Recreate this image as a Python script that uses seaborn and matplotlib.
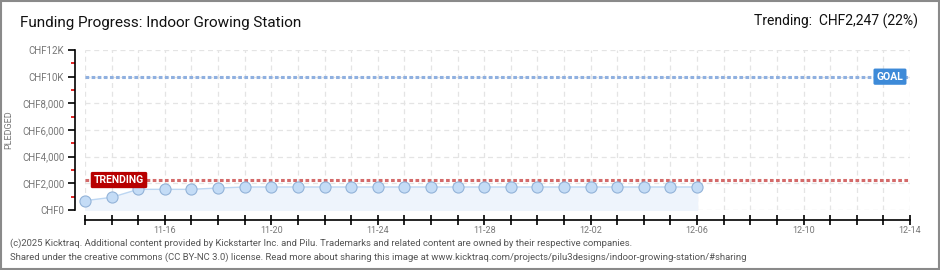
import pandas as pd
import matplotlib
matplotlib.use("Agg")
import matplotlib.pyplot as plt
from matplotlib.ticker import FixedLocator
import seaborn as sns

# data
start_day = "2025-11-13"
end_day = "2025-12-14"
pledged = [700, 950, 1550, 1550, 1550, 1650, 1725, 1725, 1725, 1725, 1725, 1725,
           1725, 1725, 1725, 1725, 1725, 1725, 1725, 1725, 1725, 1725, 1725, 1725]
goal = 10000
trending = 2247
y_ticks = [0, 2000, 4000, 6000, 8000, 10000, 12000]
y_labels = ["CHF0", "CHF2,000", "CHF4,000", "CHF6,000", "CHF8,000", "CHF10K", "CHF12K"]
x_labelled = ["11-16", "11-20", "11-24", "11-28", "12-02", "12-06", "12-10", "12-14"]

df = pd.DataFrame({
    "date": pd.date_range(start_day, periods=len(pledged), freq="D"),
    "pledged": pledged,
})
all_days = pd.date_range(start_day, end_day, freq="D")

sns.set_style("white")
plt.rcParams["font.family"] = ["Roboto", "DejaVu Sans"]

fig = plt.figure(figsize=(9.4, 2.7), dpi=100)
ax = fig.add_axes([85 / 940, 60 / 270, 825 / 940, 160 / 270])

# grid
for d in all_days:
    ax.axvline(d, color="#e4e4e4", lw=0.9, ls=(0, (4, 3)), zorder=0)
for v in y_ticks:
    ax.axhline(v, color="#e4e4e4", lw=0.9, ls=(0, (4, 3)), zorder=0)

# reference lines
ax.axhline(goal, color="#8fb0e0", lw=2.2, ls=(0, (1.2, 0.8)), zorder=2)
ax.axhline(trending, color="#d46a6a", lw=2.2, ls=(0, (1.2, 0.8)), zorder=2)

# pledged series
ax.fill_between(df["date"], df["pledged"], color="#eef4fc", zorder=1)
sns.lineplot(data=df, x="date", y="pledged", ax=ax, color="#bcd6f2", lw=1.0,
             marker="o", markersize=8, markerfacecolor="#c4dcf6",
             markeredgecolor="#93b3d8", markeredgewidth=0.8, zorder=3, clip_on=False)

ax.set_xlim(all_days[0], all_days[-1])
ax.set_ylim(0, 12000)

# x axis: a tick every day, a label every fourth day
ax.set_xticks(all_days)
ax.set_xticklabels([d.strftime("%m-%d") if d.strftime("%m-%d") in x_labelled else ""
                    for d in all_days])
ax.tick_params(axis="x", which="major", bottom=True, direction="inout", length=7,
               width=1.2, color="black", labelsize=6.5, labelcolor="#777777", pad=1)

# y axis
ax.yaxis.set_major_locator(FixedLocator(y_ticks))
ax.set_yticklabels(y_labels)
ax.yaxis.set_minor_locator(FixedLocator([1000, 3000, 5000, 7000, 9000, 11000]))
ax.tick_params(axis="y", which="major", left=True, direction="out", length=5, width=1.2,
               color="black", labelsize=7, labelcolor="#777777", pad=3)
ax.tick_params(axis="y", which="minor", left=True, direction="out", length=3, width=1.2,
               color="#dd0000")
ax.set_xlabel("")
ax.set_ylabel("PLEDGED", fontsize=6.5, color="#777777")
ax.yaxis.set_label_coords(-72 / 825, 0.5)

sns.despine(ax=ax, offset=7)
ax.spines["left"].set_bounds(0, 12000)
for s in ("left", "bottom"):
    ax.spines[s].set_color("black")
    ax.spines[s].set_linewidth(1.2)

# tags
ax.text(pd.Timestamp("2025-11-13 08:00"), trending, "TRENDING", color="white",
        fontsize=7.5, fontweight="bold", va="center", ha="left", zorder=5,
        bbox=dict(boxstyle="round,pad=0.3,rounding_size=0.15", fc="#b80000", ec="none"))
ax.text(pd.Timestamp("2025-12-13 18:00"), goal, "GOAL", color="white",
        fontsize=7.5, fontweight="bold", va="center", ha="right", zorder=5,
        bbox=dict(boxstyle="round,pad=0.3,rounding_size=0.15", fc="#3d8ad8", ec="none"))

# header and footer
fig.text(20 / 940, 1 - 23 / 270, "Funding Progress: Indoor Growing Station",
         fontsize=11, color="#111111", va="center", ha="left")
fig.text(918 / 940, 1 - 21 / 270, f"Trending:  CHF{trending:,} (22%)",
         fontsize=10, color="#111111", va="center", ha="right")
fig.text(10 / 940, 1 - 243 / 270,
         "(c)2025 Kicktraq. Additional content provided by Kickstarter Inc. and Pilu. "
         "Trademarks and related content are owned by their respective companies.",
         fontsize=6.8, color="#555555", va="center", ha="left")
fig.text(10 / 940, 1 - 257 / 270,
         "Shared under the creative commons (CC BY-NC 3.0) license. Read more about sharing "
         "this image at www.kicktraq.com/projects/pilu3designs/indoor-growing-station/#sharing",
         fontsize=6.8, color="#555555", va="center", ha="left")

# outer frame
fig.patches.append(plt.Rectangle((0.0015, 0.002), 0.997, 0.996, transform=fig.transFigure,
                                 fill=False, ec="#8a8a8a", lw=1.5))

fig.savefig("out.png", dpi=100)
